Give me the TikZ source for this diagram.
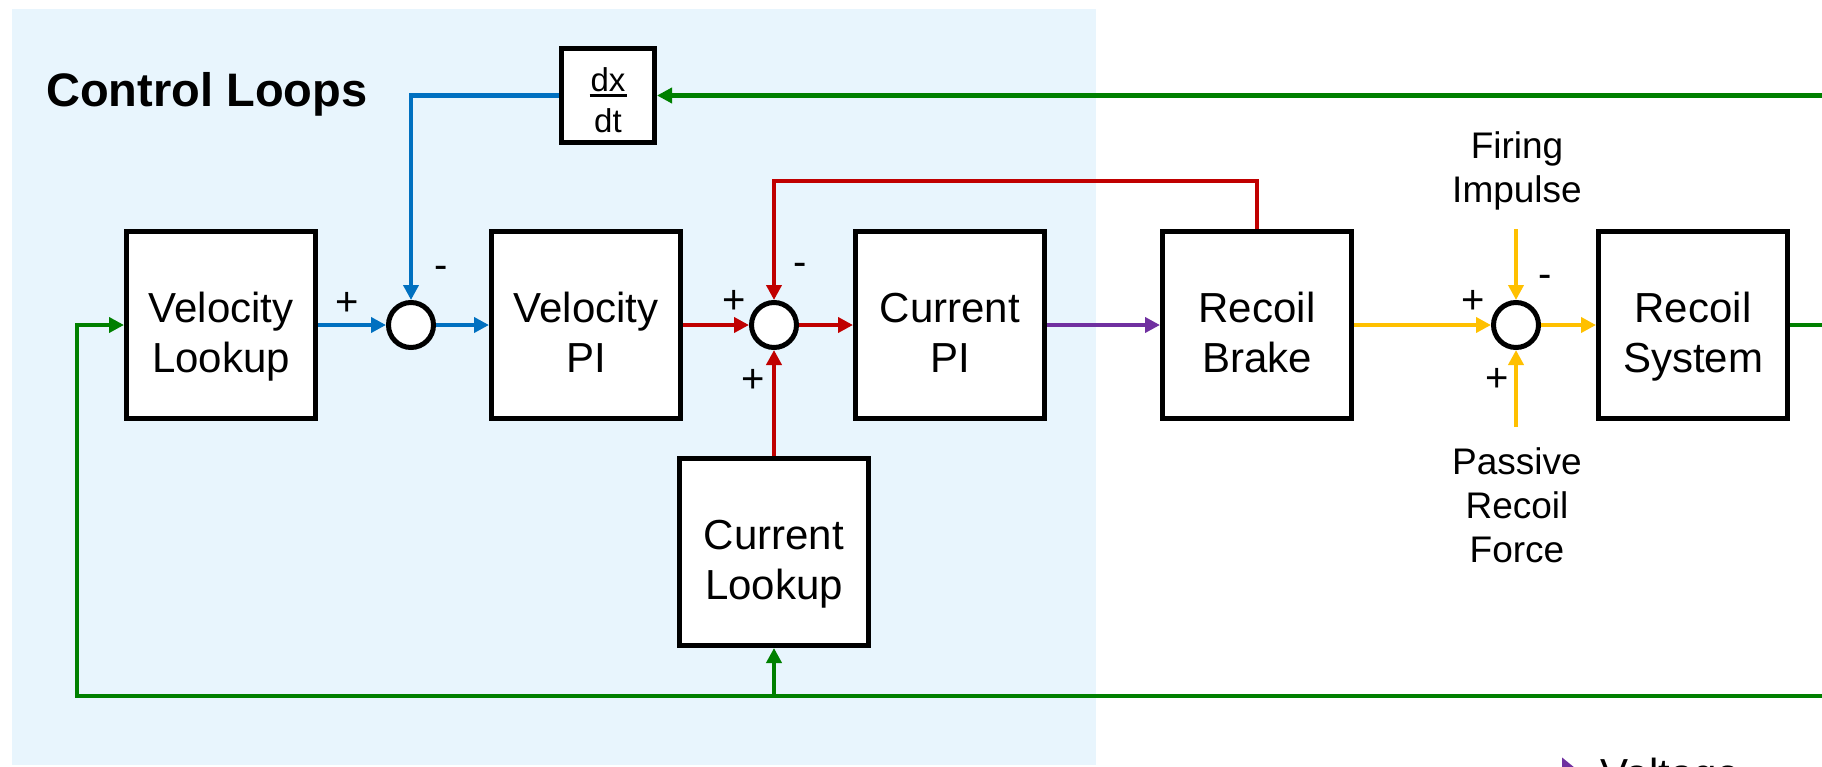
\documentclass[tikz,border=0pt]{standalone}
\usepackage{fontspec}
\setmainfont{Liberation Sans}
\usetikzlibrary{arrows.meta,calc}
\definecolor{cblue}{HTML}{0070C0}
\definecolor{cred}{HTML}{C00000}
\definecolor{cgreen}{HTML}{008000}
\definecolor{cpurple}{HTML}{7030A0}
\definecolor{cyellow}{HTML}{FFC000}
\definecolor{cbg}{HTML}{E8F5FD}
\begin{document}
\begin{tikzpicture}[x=1pt,y=-1pt,
  blk/.style={draw=black, line width=5pt, fill=white, minimum width=189pt, minimum height=187pt, inner sep=0pt, align=center, font=\fontsize{42}{50}\selectfont, text height=103pt, text depth=9pt},
  sumnode/.style={circle, draw=black, line width=5pt, fill=white, minimum size=45pt, inner sep=0pt},
  sig/.style={line width=4.3pt, -{Triangle[length=15pt,width=15pt]}},
  wire/.style={line width=4.3pt},
  sgn/.style={font=\fontsize{40}{40}\selectfont, inner sep=0pt},
  ext/.style={font=\fontsize{37}{44}\selectfont, align=center, inner sep=0pt, anchor=base}
]
\clip (0,0) rectangle (1822,766);
\fill[cbg] (12,9) rectangle (1096,765);

\node[anchor=base west, inner sep=0pt, font=\fontsize{47}{47}\selectfont\bfseries] (title) at (46,106) {Control Loops};

% blocks
\node[blk] (VL) at (221,325) {Velocity\\Lookup};
\node[blk] (VPI) at (586,325) {Velocity\\PI};
\node[blk] (CPI) at (950,325) {Current\\PI};
\node[blk] (RB) at (1257,325) {Recoil\\Brake};
\node[blk] (RS) at (1693,325) {Recoil\\System};
\node[blk] (CL) at (774,552) {Current\\Lookup};
\node[draw=black, line width=5pt, fill=white, minimum width=93pt, minimum height=94pt, inner sep=0pt, align=center, font=\fontsize{33}{41}\selectfont, text height=74pt, text depth=1pt] (dxdt) at (608,95.5) {dx\\dt};
\draw[line width=2.5pt] ($(dxdt.center)+(-18.5,0)$) -- ($(dxdt.center)+(18.5,0)$);

% summing junctions
\node[sumnode] (S1) at (411,325) {};
\node[sumnode] (S2) at (774,325) {};
\node[sumnode] (S3) at (1516,325) {};

% coordinates for free ends
\coordinate (gt) at (1830,95.5);
\coordinate (ge) at (1830,325);
\coordinate (gb) at (1830,696);
\coordinate (gbl) at (77,696);
\coordinate (gbm) at (774,696);
\coordinate (rt) at (774,181);
\coordinate (fi) at (1516,229);
\coordinate (pr) at (1516,427);

% blue loop
\draw[sig, cblue] (VL.east) -- (S1.west);
\draw[sig, cblue] (S1.east) -- (VPI.west);
\draw[sig, cblue] (dxdt.west) -| (S1.north);

% red loop
\draw[sig, cred] (VPI.east) -- (S2.west);
\draw[sig, cred] (S2.east) -- (CPI.west);
\draw[sig, cred] (RB.north) |- (rt) -- (S2.north);
\draw[sig, cred] (CL.north) -- (S2.south);

% purple
\draw[sig, cpurple] (CPI.east) -- (RB.west);

% yellow
\draw[sig, cyellow] (RB.east) -- (S3.west);
\draw[sig, cyellow] (S3.east) -- (RS.west);
\draw[sig, cyellow] (fi) -- (S3.north);
\draw[sig, cyellow] (pr) -- (S3.south);

% green
\draw[wire, cgreen] (RS.east) -- (ge);
\draw[sig, cgreen] (gt) -- (dxdt.east);
\draw[sig, cgreen] (gb) -- (gbl) |- (VL.west);
\draw[sig, cgreen] (gbm) -- (CL.south);

% signs
\node[sgn] (p1) at (347,304) {+};
\node[sgn] (m1) at (441,272) {-};
\node[sgn] (p2) at (734,302) {+};
\node[sgn] (m2) at (800,269) {-};
\node[sgn] (p2b) at (753,381) {+};
\node[sgn] (p3) at (1473,302) {+};
\node[sgn] (m3) at (1545,281) {-};
\node[sgn] (p3b) at (1497,380) {+};

% external inputs
\node[ext] (fire) at (1517,202) {Firing\\Impulse};
\node[ext] (pass) at (1517,562) {Passive\\Recoil\\Force};

% legend (cut off)
\coordinate (va) at (1490,772);
\coordinate (vb) at (1580,772);
\draw[cpurple, line width=4.3pt, -{Triangle[length=18pt,width=28pt]}] (va) -- (vb);
\node[anchor=base west, inner sep=0pt, font=\fontsize{42}{50}\selectfont] (volt) at (1600,788) {Voltage};
\end{tikzpicture}
\end{document}
